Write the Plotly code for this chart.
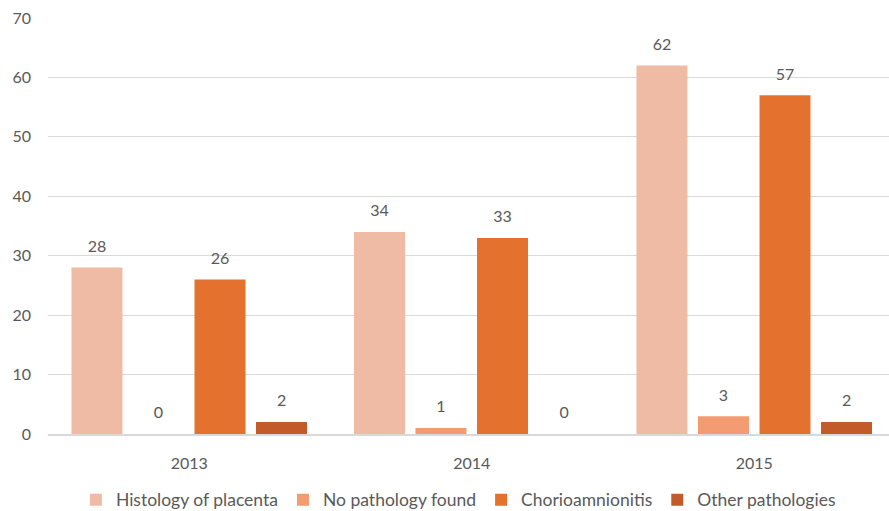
import plotly.graph_objects as go

# Placental histology results by year
years = ["2013", "2014", "2015"]
histology = [28, 34, 62]
no_pathology = [0, 1, 3]
chorioamnionitis = [26, 33, 57]
other_pathologies = [2, 0, 2]

series_names = [
    "Histology of placenta",
    "No pathology found",
    "Chorioamnionitis",
    "Other pathologies",
]
series_values = [histology, no_pathology, chorioamnionitis, other_pathologies]
series_colors = ["#F0BBA5", "#F39C72", "#E4722E", "#C35A2A"]

FONT = "Lato"
TEXT_COLOR = "#595959"
GRID = "#D9D9D9"

fig = go.Figure()

for i, (name, vals, color) in enumerate(zip(series_names, series_values, series_colors)):
    fig.add_trace(go.Bar(
        x=years, y=vals, name=name,
        marker=dict(color=color, line=dict(width=0)),
        offsetgroup=str(i),
    ))

# value labels floated above each bar
for i, (name, vals) in enumerate(zip(series_names, series_values)):
    fig.add_trace(go.Scatter(
        x=years, y=vals, mode="markers+text",
        text=[str(v) for v in vals], textposition="top center",
        textfont=dict(family=FONT, size=16, color=TEXT_COLOR),
        marker=dict(size=17, color="rgba(0,0,0,0)"),
        offsetgroup=str(i), showlegend=False, hoverinfo="skip",
        cliponaxis=False,
    ))

fig.update_layout(
    width=889, height=511,
    margin=dict(l=48, r=0, t=18, b=77),
    paper_bgcolor="white", plot_bgcolor="white",
    barmode="group", bargap=0.129, bargroupgap=0.171,
    scattermode="group", scattergap=0.129,
    font=dict(family=FONT, size=16, color=TEXT_COLOR),
    showlegend=True,
    legend=dict(
        orientation="h", x=0.488, xanchor="center",
        yref="container", y=0.022, yanchor="middle",
        font=dict(family=FONT, size=17.5, color=TEXT_COLOR),
        traceorder="normal",
    ),
    xaxis=dict(
        type="category", range=[-0.5, 2.477], showgrid=False, showline=True,
        linecolor=GRID, linewidth=2, ticks="", ticklabelstandoff=14,
        tickfont=dict(family=FONT, size=16, color=TEXT_COLOR),
    ),
    yaxis=dict(
        range=[0, 70], tickvals=[0, 10, 20, 30, 40, 50, 60, 70],
        showgrid=True, gridcolor=GRID, gridwidth=1, zeroline=False,
        showline=False, ticks="", ticklabelstandoff=16,
        tickfont=dict(family=FONT, size=16, color=TEXT_COLOR),
    ),
)

fig.write_html("out.html")
